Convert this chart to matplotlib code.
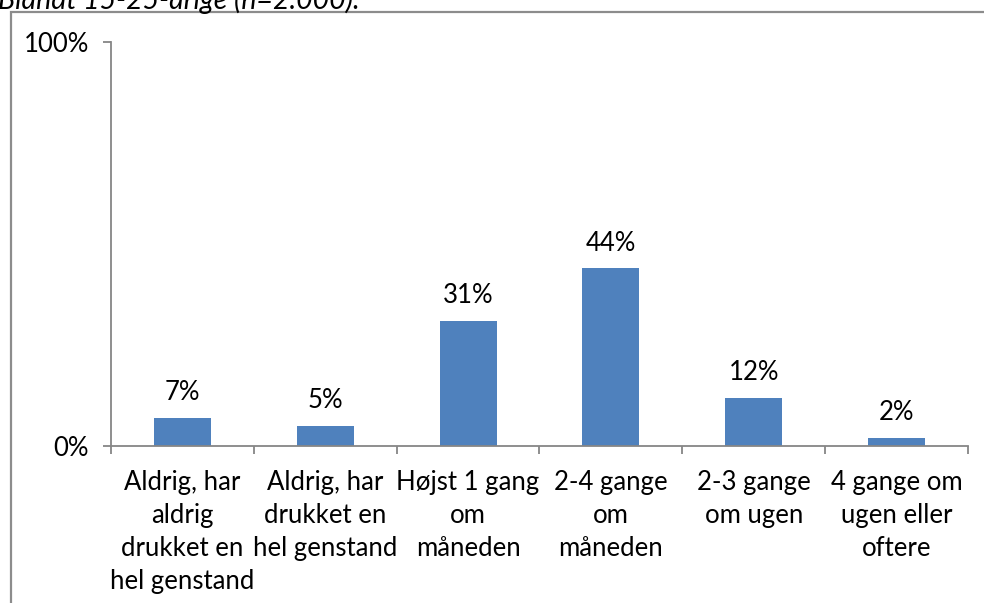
import numpy as np
import matplotlib.pyplot as plt
from matplotlib.patches import Rectangle

plt.rcParams['font.family'] = ['Lato', 'DejaVu Sans']

categories = ["Aldrig, har\naldrig\ndrukket en\nhel genstand",
              "Aldrig, har\ndrukket en\nhel genstand",
              "Højst 1 gang\nom\nmåneden",
              "2-4 gange\nom\nmåneden",
              "2-3 gange\nom ugen",
              "4 gange om\nugen eller\noftere"]
values = [7, 5, 31, 44, 12, 2]
value_labels = ["7%", "5%", "31%", "44%", "12%", "2%"]
title = "Blandt 15-25-årige (n=2.000)."

grey = "#868686"
fs = 18.5

fig = plt.figure(figsize=(9.84, 6.03), dpi=100)
ax = fig.add_axes([111/984, 1 - 446/603, (968 - 111)/984, (446 - 42)/603])

x = np.arange(len(values))
ax.bar(x, values, width=0.4, color="#4F81BD")

for xi, v, lab in zip(x, values, value_labels):
    ax.annotate(lab, (xi, v), xytext=(0, 9), textcoords="offset points",
                ha="center", va="bottom", fontsize=fs)

ax.set_xlim(-0.5, len(values) - 0.5)
ax.set_ylim(0, 100)
ax.set_yticks([0, 100])
ax.set_yticklabels(["0%", "100%"], fontsize=fs)
ax.set_xticks(x)
ax.set_xticklabels(categories, fontsize=fs, linespacing=1.4, va="top")
ax.set_xticks(np.arange(len(values) + 1) - 0.5, minor=True)

ax.tick_params(axis="x", which="major", length=0, pad=17)
ax.tick_params(axis="x", which="minor", length=6, width=1.3, color=grey, direction="out")
ax.tick_params(axis="y", length=6, width=1.3, color=grey, direction="out", pad=10)

for s in ["top", "right"]:
    ax.spines[s].set_visible(False)
for s in ["left", "bottom"]:
    ax.spines[s].set_color(grey)
    ax.spines[s].set_linewidth(1.3)

# outer chart frame, running off the right and bottom edges
fig.patches.append(Rectangle((11/984, -0.1), 1.1, 1.1 - 12/603,
                             transform=fig.transFigure, fill=False,
                             edgecolor="#8c8c8c", linewidth=1.6))

fig.text(-2/984, 1 - 9/603, title, style="italic", fontsize=20.5, va="baseline", ha="left")

fig.savefig("out.png", dpi=100)
